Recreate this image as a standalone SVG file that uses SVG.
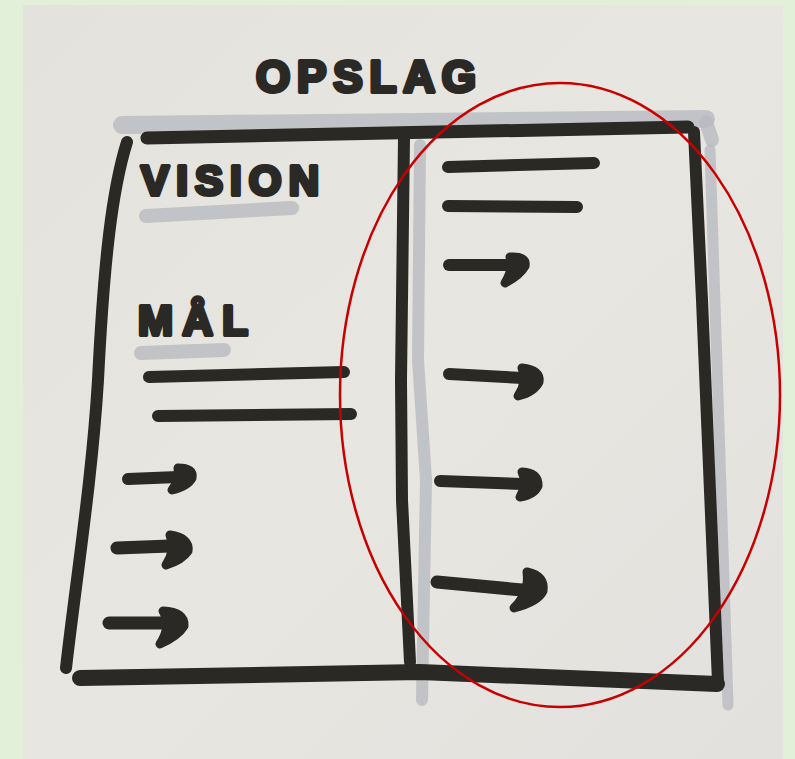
<svg xmlns="http://www.w3.org/2000/svg" width="795" height="759" viewBox="0 0 795 759">
<defs>
<linearGradient id="paper" x1="0" y1="0" x2="1" y2="1">
<stop offset="0" stop-color="#e4e2dc"/>
<stop offset="0.5" stop-color="#e8e6e0"/>
<stop offset="1" stop-color="#e2e1de"/>
</linearGradient>
</defs>
<style>
.ink{stroke:#2b2925;fill:none;stroke-linecap:round;stroke-linejoin:round}
.shade{stroke:#b9bac0;fill:none;stroke-linecap:round;stroke-linejoin:round;opacity:0.8}
.head{stroke:#2b2925;fill:#2b2925;stroke-linecap:round;stroke-linejoin:round;stroke-width:9}
.hand{font-family:"Liberation Sans",Arial,sans-serif;font-weight:bold;fill:#2b2925;stroke:#2b2925;stroke-width:4;stroke-linejoin:round}
</style>
<rect x="0" y="0" width="795" height="759" fill="#e2f0da"/>
<rect x="23" y="5" width="760" height="754" fill="url(#paper)"/>

<g id="shadows">
<path class="shade" d="M122 125 L706 119" stroke-width="18"/>
<path class="shade" d="M706 122 L712 140" stroke-width="14"/>
<path class="shade" d="M420 145 L418 360 L426 480 L422 700" stroke-width="12"/>
<path class="shade" d="M710 150 L728 705" stroke-width="11"/>
<path class="shade" d="M146 216 L292 208" stroke-width="14"/>
<path class="shade" d="M141 353 L224 350" stroke-width="14"/>
</g>

<g id="frame">
<path class="ink" d="M147 138 L688 127" stroke-width="13"/>
<path class="ink" d="M127 142 C112 190 104 260 98 380 C92 480 76 580 66 668" stroke-width="12"/>
<path class="ink" d="M80 678 L420 672 L717 684" stroke-width="16"/>
<path class="ink" d="M404 138 L401 380 L402 500 L410 662" stroke-width="12"/>
<path class="ink" d="M694 132 L702 300 L718 682" stroke-width="12"/>
</g>

<g id="title">
<text class="hand" x="256" y="92" font-size="44" textLength="220" lengthAdjust="spacing">OPSLAG</text>
</g>

<g id="left-panel">
<text class="hand" x="141" y="195" font-size="42" textLength="178" lengthAdjust="spacing">VISION</text>
<text class="hand" x="138" y="335" font-size="42" textLength="110" lengthAdjust="spacing">MÅL</text>
<path class="ink" d="M149 377 L344 372" stroke-width="12"/>
<path class="ink" d="M158 416 L351 414" stroke-width="12"/>
<path class="ink" d="M128 479 L178 477" stroke-width="12"/>
<path class="head" d="M178 468 Q194 468 192 478 Q188 486 172 490 Q180 480 178 468 Z"/>
<path class="ink" d="M117 548 L170 546" stroke-width="13"/>
<path class="head" d="M170 535 Q190 538 188 551 Q182 560 166 565 Q176 550 170 535 Z"/>
<path class="ink" d="M109 623 L162 623" stroke-width="13"/>
<path class="head" d="M163 611 Q185 612 184 626 Q178 636 160 644 Q172 626 163 611 Z"/>
</g>

<g id="right-panel">
<path class="ink" d="M448 167 L594 163" stroke-width="12"/>
<path class="ink" d="M448 206 L577 207" stroke-width="12"/>
<path class="ink" d="M449 265 L510 265" stroke-width="12"/>
<path class="head" d="M510 257 Q527 256 525 266 Q520 275 505 283 Q514 268 510 257 Z"/>
<path class="ink" d="M449 374 L522 378" stroke-width="12"/>
<path class="head" d="M522 368 Q541 370 539 382 Q534 392 518 396 Q528 382 522 368 Z"/>
<path class="ink" d="M440 481 L522 484" stroke-width="12"/>
<path class="head" d="M522 472 Q539 473 538 486 Q534 495 520 497 Q528 484 522 472 Z"/>
<path class="ink" d="M437 582 L522 590" stroke-width="13"/>
<path class="head" d="M527 572 Q545 576 543 591 Q538 602 514 608 Q530 592 527 572 Z"/>
</g>

<g id="connectors">
<ellipse cx="560" cy="395" rx="220" ry="312" fill="none" stroke="#c80000" stroke-width="2.5"/>
</g>
</svg>
